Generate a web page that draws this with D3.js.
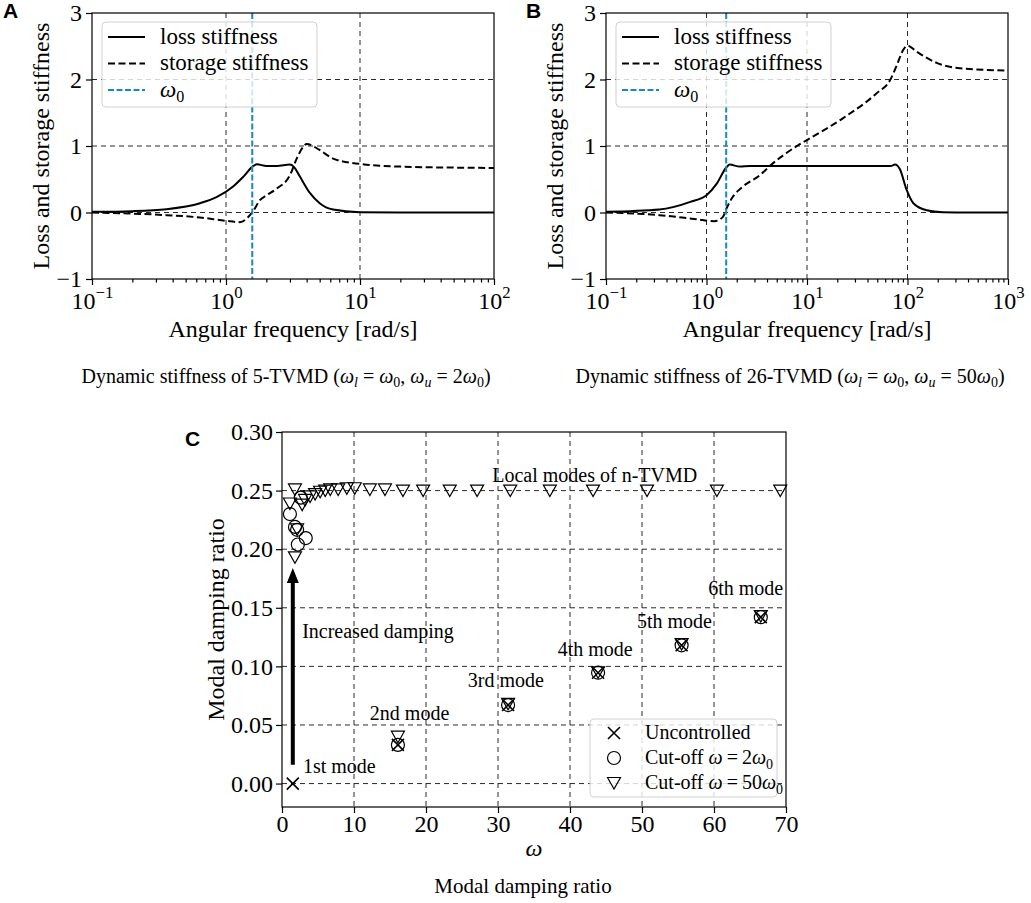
<!DOCTYPE html>
<html>
<head>
<meta charset="utf-8">
<script src="https://cdn.jsdelivr.net/npm/d3@7"></script>
<style>
	body { margin: 0; background: #fff; }
	svg { font-family: "Liberation Serif", "DejaVu Serif", serif; }
	.grid line { stroke: #2a2a2a; stroke-width: 1; stroke-dasharray: 5,4; }
	.axis path.domain { display: none; }
	.axis line { stroke: #000; stroke-width: 1.2; }
	.panel-label { font-family: "Liberation Sans", Arial, sans-serif; font-weight: bold; font-size: 21px; }
</style>
</head>
<body>
<svg id="fig" width="1031" height="903"></svg>
<script>

// ---- data ----
// panel A: 5-TVMD, [omega rad/s, stiffness]
const lossA = [[0.1,0.01],[0.2,0.02],[0.36,0.05],[0.64,0.14],[0.85,0.23],[1.13,0.39],[1.35,0.54],
	[1.6,0.70],[1.7,0.725],[2.0,0.70],[2.4,0.70],[3.0,0.72],[3.2,0.69],[3.56,0.54],[4.24,0.29],
	[5.0,0.14],[6.3,0.045],[10,0.005],[20,0],[100,0]];
const storageA = [[0.1,0],[0.36,-0.04],[0.64,-0.075],[1.0,-0.125],[1.27,-0.145],[1.47,-0.065],
	[1.6,0.025],[1.79,0.186],[2.01,0.26],[2.39,0.36],[3.0,0.56],[3.37,0.81],[3.78,0.99],[4.0,1.03],
	[5.0,0.94],[6.3,0.81],[10,0.73],[20,0.69],[100,0.67]];
// panel B: 26-TVMD
const lossB = [[0.1,0.01],[0.34,0.045],[0.69,0.16],[1.0,0.26],[1.26,0.43],[1.58,0.68],[1.7,0.72],
	[2.14,0.69],[2.7,0.70],[10,0.70],[50,0.70],[68,0.70],[75,0.72],[84,0.65],[98,0.34],[115,0.136],
	[155,0.035],[224,0.005],[400,0],[1000,0]];
const storageB = [[0.1,0],[0.34,-0.04],[0.79,-0.1],[1.2,-0.13],[1.45,-0.07],[1.58,0.06],[1.78,0.21],
	[2.29,0.387],[3.39,0.56],[4.27,0.70],[7.94,1.0],[10,1.09],[22.9,1.42],[49,1.79],[67.6,2.0],
	[77.6,2.2],[91,2.45],[100,2.51],[123,2.42],[195,2.25],[331,2.17],[1000,2.135]];
const omega0 = 1.57;
const stiffnessTicks = [-1, 0, 1, 2, 3];
const stiffnessGrid = [0, 1, 2];

// panel C: [omega, modal damping ratio]
const uncontrolled = [[1.5,0],[16.1,0.033],[31.4,0.067],[43.9,0.0946],[55.5,0.118],[66.5,0.142]];
const cutoff2 = [[1.1,0.230],[1.8,0.219],[2.1,0.2165],[2.2,0.204],[3.3,0.2095],[2.6,0.244],
	[16.1,0.033],[31.4,0.067],[43.9,0.0946],[55.5,0.118],[66.5,0.142]];
const cutoff50 = [[1.8,0.193],[2.1,0.217],[1.1,0.239],[1.8,0.251],[2.8,0.238],[3.2,0.242],[3.9,0.245],
	[4.6,0.247],[5.3,0.249],[6.0,0.250],[6.7,0.251],[7.8,0.251],[9.0,0.252],[10.1,0.252],[12.2,0.251],
	[14.3,0.251],[16.8,0.250],[19.6,0.250],[23.3,0.250],[27.1,0.250],[31.7,0.250],[37.2,0.250],
	[43.2,0.250],[50.7,0.250],[60.4,0.250],[69.2,0.250],
	[16.1,0.040],[31.4,0.068],[43.9,0.095],[55.5,0.119],[66.5,0.143]];
const dampingTicks = [0, 0.05, 0.10, 0.15, 0.20, 0.25, 0.30];
const omegaTicks = [0, 10, 20, 30, 40, 50, 60, 70];
// annotations: text + anchor in data coords
const modeNotes = [
	{ text: "1st mode", w: 2.9, z: 0.0094 },
	{ text: "2nd mode", w: 12.2, z: 0.0546 },
	{ text: "3rd mode", w: 25.8, z: 0.0827 },
	{ text: "4th mode", w: 38.3, z: 0.109 },
	{ text: "5th mode", w: 49.3, z: 0.133 },
	{ text: "6th mode", w: 59.2, z: 0.161 },
	{ text: "Increased damping", w: 2.8, z: 0.1245 },
	{ text: "Local modes of n-TVMD", w: 29.2, z: 0.2575 }
];
const arrowFrom = [1.5, 0.016], arrowTo = [1.5, 0.184];

const blue = "#1688c8";
const svg = d3.select("#fig");

// write text with italic / subscript / superscript pieces
function rich(text, parts, size) {
	let shift = 0;
	parts.forEach(([s, kind]) => {
		const t = text.append("tspan").text(s);
		const isSub = kind === "sub" || kind === "isub";
		const want = isSub ? size * 0.22 : kind === "sup" ? -size * 0.45 : 0;
		if (want !== shift) { t.attr("dy", want - shift); shift = want; }
		if (kind === "i" || kind === "isub") t.attr("font-style", "italic");
		if (isSub || kind === "sup") t.attr("font-size", size * 0.7);
	});
	return text;
}

const isDecade = (d) => Math.abs(Math.log10(d) - Math.round(Math.log10(d))) < 1e-6;

function stiffnessPanel(cfg) {
	const top = 13, bottom = 279;
	const x = d3.scaleLog().domain(cfg.domain).range([cfg.left, cfg.right]);
	const y = d3.scaleLinear().domain([-1, 3]).range([bottom, top]);
	const g = svg.append("g");

	const all = x.ticks();
	const majors = all.filter(isDecade);
	const minors = all.filter((d) => !isDecade(d));

	// grid
	const grid = g.append("g").attr("class", "grid");
	grid.selectAll(".gv").data(majors.slice(1, -1)).enter()
		.append("line")
			.attr("x1", (d) => x(d)).attr("x2", (d) => x(d))
			.attr("y1", top).attr("y2", bottom);
	grid.selectAll(".gh").data(stiffnessGrid).enter()
		.append("line")
			.attr("x1", cfg.left).attr("x2", cfg.right)
			.attr("y1", (d) => y(d)).attr("y2", (d) => y(d));

	// curves
	const line = d3.line()
		.x((d) => x(d[0]))
		.y((d) => y(d[1]))
		.curve(d3.curveMonotoneX);

	g.append("path")
		.attr("d", line(cfg.storage))
		.attr("fill", "none").attr("stroke", "#000").attr("stroke-width", 2)
		.attr("stroke-dasharray", "7,3.5");
	g.append("path")
		.attr("d", line(cfg.loss))
		.attr("fill", "none").attr("stroke", "#000").attr("stroke-width", 2);

	g.append("line")
		.attr("x1", x(omega0)).attr("x2", x(omega0))
		.attr("y1", top).attr("y2", bottom)
		.attr("stroke", blue).attr("stroke-width", 2)
		.attr("stroke-dasharray", "6,2.5");

	// frame
	g.append("rect")
		.attr("x", cfg.left).attr("y", top)
		.attr("width", cfg.right - cfg.left).attr("height", bottom - top)
		.attr("fill", "none").attr("stroke", "#000").attr("stroke-width", 1.2);

	// axes
	g.append("g")
		.attr("class", "axis")
		.attr("transform", `translate(0,${bottom})`)
		.call(d3.axisBottom(x).tickValues(minors).tickSize(3.5).tickFormat(""));

	const xAxis = g.append("g")
		.attr("class", "axis")
		.attr("transform", `translate(0,${bottom})`)
		.call(d3.axisBottom(x).tickValues(majors).tickSize(6));
	xAxis.attr("font-family", null).attr("font-size", null);
	xAxis.selectAll("text")
		.attr("y", 30).attr("dy", null)
		.attr("font-size", 24).attr("fill", "#000")
		.each(function(d) {
			const t = d3.select(this).text(null);
			const e = Math.round(Math.log10(d));
			rich(t, [["10", ""], [e < 0 ? "\u2212" + (-e) : String(e), "sup"]], 24);
		});

	const yAxis = g.append("g")
		.attr("class", "axis")
		.attr("transform", `translate(${cfg.left},0)`)
		.call(d3.axisLeft(y).tickValues(stiffnessTicks).tickSize(6).tickPadding(4).tickFormat(d3.format("d")));
	yAxis.attr("font-family", null).attr("font-size", null);
	yAxis.selectAll("text").attr("font-size", 24).attr("fill", "#000");

	// labels
	g.append("text")
		.attr("x", (cfg.left + cfg.right) / 2).attr("y", 337)
		.attr("text-anchor", "middle").attr("font-size", 24)
		.text("Angular frequency [rad/s]");
	g.append("text")
		.attr("transform", `translate(${cfg.left - 43},${(top + bottom) / 2}) rotate(-90)`)
		.attr("text-anchor", "middle").attr("font-size", 24)
		.text("Loss and storage stiffness");
	rich(g.append("text")
		.attr("x", cfg.captionX).attr("y", 383)
		.attr("text-anchor", "middle").attr("font-size", 20), cfg.caption, 20);
	g.append("text")
		.attr("class", "panel-label")
		.attr("x", cfg.labelX).attr("y", 18)
		.text(cfg.label);

	// legend
	const lg = g.append("g").attr("transform", `translate(${cfg.left + 10},22)`);
	lg.append("rect")
		.attr("width", 215).attr("height", 85).attr("rx", 4)
		.attr("fill", "#fff").attr("fill-opacity", 0.8)
		.attr("stroke", "#d0d0d0").attr("stroke-width", 1);
	const entries = [
		{ parts: [["loss stiffness", ""]], stroke: "#000", dash: null },
		{ parts: [["storage stiffness", ""]], stroke: "#000", dash: "7,3.5" },
		{ parts: [["\u03c9", "i"], ["0", "sub"]], stroke: blue, dash: "6,2.5" }
	];
	const row = lg.selectAll(".entry").data(entries).enter()
		.append("g")
			.attr("transform", (d, i) => `translate(0,${15 + i * 26.5})`);
	row.append("line")
		.attr("x1", 6).attr("x2", 43)
		.attr("stroke", (d) => d.stroke).attr("stroke-width", 2)
		.attr("stroke-dasharray", (d) => d.dash);
	row.append("text")
		.attr("x", 58).attr("dy", "0.3em").attr("font-size", 23)
		.each(function(d) { rich(d3.select(this), d.parts, 23); });
}

stiffnessPanel({
	domain: [0.1, 100], left: 92, right: 494, label: "A", labelX: 3, captionX: 286,
	loss: lossA, storage: storageA,
	caption: [["Dynamic stiffness of 5-TVMD (", ""], ["\u03c9", "i"], ["l", "isub"], [" = ", ""],
		["\u03c9", "i"], ["0", "sub"], [", ", ""], ["\u03c9", "i"], ["u", "isub"], [" = 2", ""],
		["\u03c9", "i"], ["0", "sub"], [")", ""]]
});
stiffnessPanel({
	domain: [0.1, 1000], left: 606, right: 1008, label: "B", labelX: 526, captionX: 790,
	loss: lossB, storage: storageB,
	caption: [["Dynamic stiffness of 26-TVMD (", ""], ["\u03c9", "i"], ["l", "isub"], [" = ", ""],
		["\u03c9", "i"], ["0", "sub"], [", ", ""], ["\u03c9", "i"], ["u", "isub"], [" = 50", ""],
		["\u03c9", "i"], ["0", "sub"], [")", ""]]
});

// ---- panel C ----
const cLeft = 282, cRight = 786, cTop = 432, cBottom = 807;
const xC = d3.scaleLinear().domain([0, 70]).range([cLeft, cRight]);
const yC = d3.scaleLinear().domain([-0.02, 0.30]).range([cBottom, cTop]);
const c = svg.append("g");

const gridC = c.append("g").attr("class", "grid");
gridC.selectAll(".gv").data(omegaTicks.slice(1, -1)).enter()
	.append("line")
		.attr("x1", (d) => xC(d)).attr("x2", (d) => xC(d))
		.attr("y1", cTop).attr("y2", cBottom);
gridC.selectAll(".gh").data(dampingTicks.slice(0, -1)).enter()
	.append("line")
		.attr("x1", cLeft).attr("x2", cRight)
		.attr("y1", (d) => yC(d)).attr("y2", (d) => yC(d));

const markers = {
	cross: "M-6,-6L6,6M-6,6L6,-6",
	circle: d3.symbol(d3.symbolCircle, Math.PI * 6.5 * 6.5)(),
	tri: "M-6.5,-5.5L6.5,-5.5L0,6Z"
};

function scatter(data, shape, width) {
	c.append("g").selectAll("path").data(data).enter()
		.append("path")
			.attr("transform", (d) => `translate(${xC(d[0])},${yC(d[1])})`)
			.attr("d", markers[shape])
			.attr("fill", "none").attr("stroke", "#000").attr("stroke-width", width);
}
scatter(cutoff50, "tri", 1.2);
scatter(cutoff2, "circle", 1.2);
scatter(uncontrolled, "cross", 1.6);

// arrow
c.append("line")
	.attr("x1", xC(arrowFrom[0])).attr("x2", xC(arrowTo[0]))
	.attr("y1", yC(arrowFrom[1])).attr("y2", yC(arrowTo[1]) + 12)
	.attr("stroke", "#000").attr("stroke-width", 4);
c.append("path")
	.attr("transform", `translate(${xC(arrowTo[0])},${yC(arrowTo[1])})`)
	.attr("d", "M0,0L-6,15L6,15Z")
	.attr("fill", "#000");

c.selectAll(".note").data(modeNotes).enter()
	.append("text")
		.attr("x", (d) => xC(d.w)).attr("y", (d) => yC(d.z))
		.attr("font-size", 20)
		.text((d) => d.text);

c.append("rect")
	.attr("x", cLeft).attr("y", cTop)
	.attr("width", cRight - cLeft).attr("height", cBottom - cTop)
	.attr("fill", "none").attr("stroke", "#000").attr("stroke-width", 1.2);

const xAxisC = c.append("g")
	.attr("class", "axis")
	.attr("transform", `translate(0,${cBottom})`)
	.call(d3.axisBottom(xC).tickValues(omegaTicks).tickSize(6).tickFormat(d3.format("d")));
xAxisC.attr("font-family", null).attr("font-size", null);
xAxisC.selectAll("text").attr("y", 25).attr("dy", null).attr("font-size", 24).attr("fill", "#000");

const yAxisC = c.append("g")
	.attr("class", "axis")
	.attr("transform", `translate(${cLeft},0)`)
	.call(d3.axisLeft(yC).tickValues(dampingTicks).tickSize(6).tickPadding(3).tickFormat(d3.format(".2f")));
yAxisC.attr("font-family", null).attr("font-size", null);
yAxisC.selectAll("text").attr("font-size", 24).attr("fill", "#000");

c.append("text")
	.attr("x", (cLeft + cRight) / 2).attr("y", 856)
	.attr("text-anchor", "middle").attr("font-size", 24).attr("font-style", "italic")
	.text("\u03c9");
c.append("text")
	.attr("transform", `translate(224,${(cTop + cBottom) / 2}) rotate(-90)`)
	.attr("text-anchor", "middle").attr("font-size", 24)
	.text("Modal damping ratio");
c.append("text")
	.attr("x", 523).attr("y", 893)
	.attr("text-anchor", "middle").attr("font-size", 21)
	.text("Modal damping ratio");
c.append("text")
	.attr("class", "panel-label")
	.attr("x", 185).attr("y", 446)
	.text("C");

// legend C
const lgC = c.append("g").attr("transform", "translate(590,719)");
lgC.append("rect")
	.attr("width", 187).attr("height", 78).attr("rx", 4)
	.attr("fill", "#fff").attr("fill-opacity", 0.8)
	.attr("stroke", "#d0d0d0").attr("stroke-width", 1);
const legendC = [
	{ shape: "cross", w: 1.6, parts: [["Uncontrolled", ""]] },
	{ shape: "circle", w: 1.2, parts: [["Cut-off ", ""], ["\u03c9", "i"], ["\u2009=\u20092", ""], ["\u03c9", "i"], ["0", "sub"]] },
	{ shape: "tri", w: 1.2, parts: [["Cut-off ", ""], ["\u03c9", "i"], ["\u2009=\u200950", ""], ["\u03c9", "i"], ["0", "sub"]] }
];
const rowC = lgC.selectAll(".entry").data(legendC).enter()
	.append("g")
		.attr("transform", (d, i) => `translate(0,${14 + i * 25})`);
rowC.append("path")
	.attr("transform", "translate(24,0)")
	.attr("d", (d) => markers[d.shape])
	.attr("fill", "none").attr("stroke", "#000").attr("stroke-width", (d) => d.w);
rowC.append("text")
	.attr("x", 55).attr("dy", "0.32em").attr("font-size", 20)
	.each(function(d) { rich(d3.select(this), d.parts, 20); });

</script>
</body>
</html>
